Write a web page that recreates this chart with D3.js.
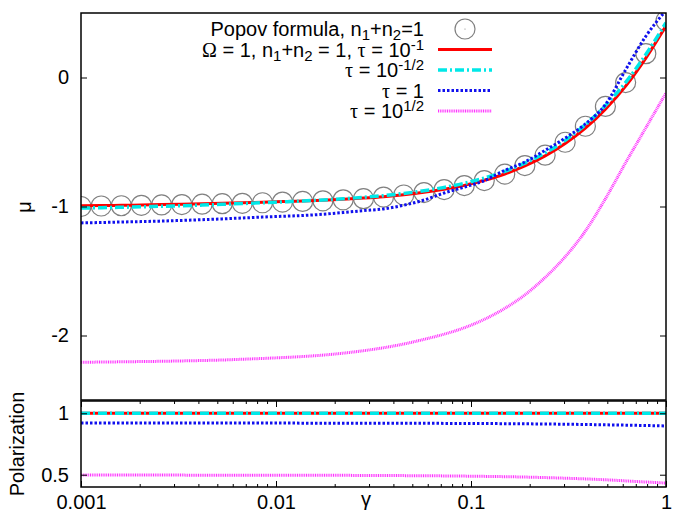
<!DOCTYPE html>
<html>
<head>
<meta charset="utf-8">
<script src="https://cdn.jsdelivr.net/npm/d3@7"></script>
<style>
  body { margin: 0; background: #fff; }
  svg text { font-family: "Liberation Sans", Arial, sans-serif; font-size: 20px; fill: #000; }
</style>
</head>
<body>
<svg id="chart" width="690" height="521"></svg>
<script>
// gamma grid of the curves (log spaced, 30 points)
var gamma = [0.001, 0.00127, 0.00161, 0.00204, 0.00259, 0.00329, 0.00418, 0.0053, 0.00672, 0.00853,
             0.0108, 0.0137, 0.0174, 0.0221, 0.0281, 0.0356, 0.0452, 0.0574, 0.0728, 0.0924,
             0.117, 0.149, 0.189, 0.24, 0.304, 0.386, 0.489, 0.621, 0.788, 1.0]

// Popov formula, n1+n2=1 (circles)
var popovMu = [-1.0, -0.996, -0.994, -0.991, -0.988, -0.985, -0.982, -0.978, -0.975, -0.971,
               -0.966, -0.961, -0.956, -0.948, -0.939, -0.927, -0.911, -0.892, -0.869, -0.838,
               -0.799, -0.749, -0.683, -0.602, -0.502, -0.378, -0.224, -0.039, 0.185, 0.44]

// mu for Omega=1, n1+n2=1, different tau
var muTau01 = [-0.995, -0.993, -0.991, -0.988, -0.985, -0.982, -0.979, -0.975, -0.971, -0.967,
               -0.962, -0.957, -0.951, -0.944, -0.935, -0.924, -0.909, -0.89, -0.866, -0.836,
               -0.797, -0.748, -0.686, -0.608, -0.512, -0.393, -0.246, -0.067, 0.15, 0.4]
var muTau03 = [-1.012, -1.009, -1.006, -1.002, -0.998, -0.994, -0.989, -0.983, -0.977, -0.971,
               -0.964, -0.957, -0.949, -0.94, -0.929, -0.916, -0.899, -0.878, -0.852, -0.82,
               -0.779, -0.728, -0.664, -0.585, -0.487, -0.366, -0.218, -0.038, 0.178, 0.425]
var muTau1 = [-1.127, -1.124, -1.12, -1.117, -1.113, -1.108, -1.102, -1.096, -1.089, -1.082,
              -1.076, -1.07, -1.06, -1.047, -1.032, -1.019, -0.99, -0.95, -0.895, -0.85,
              -0.8, -0.72, -0.655, -0.565, -0.47, -0.36, -0.21, 0.06, 0.32, 0.52]
var muTau3 = [-2.207, -2.206, -2.204, -2.202, -2.2, -2.197, -2.194, -2.19, -2.184, -2.178,
              -2.171, -2.163, -2.152, -2.137, -2.118, -2.095, -2.066, -2.03, -1.99, -1.94,
              -1.875, -1.79, -1.685, -1.55, -1.39, -1.19, -0.94, -0.66, -0.39, -0.12]

// polarization panel
var gammaPol = [0.001, 0.01, 0.03, 0.1, 0.2, 0.3, 0.5, 0.7, 1.0]
var polTau01 = [1.0, 1.0, 1.0, 1.0, 1.0, 1.0, 1.0, 1.0, 1.0]
var polTau03 = [1.0, 1.0, 1.0, 1.0, 1.0, 1.0, 1.0, 1.0, 1.0]
var polTau1 = [0.92, 0.92, 0.919, 0.917, 0.914, 0.911, 0.906, 0.902, 0.897]
var polTau3 = [0.497, 0.496, 0.494, 0.488, 0.48, 0.472, 0.458, 0.445, 0.432]

var xTicks = [0.001, 0.01, 0.1, 1]
var xTickLabels = ["0.001", "0.01", "0.1", "1"]
var muTicks = [-2, -1, 0]
var polTicks = [0.5, 1]

var svg = d3.select("#chart")
var left = 81, right = 666
var topY0 = 13, topY1 = 400, botY0 = 401, botY1 = 487

var x = d3.scaleLog().domain([0.001, 1]).range([left, right])
var yTop = d3.scaleLinear().domain([-2.5, 0.5]).range([topY1, topY0])
var yBot = d3.scaleLinear().domain([0.4, 1.1]).range([botY1, botY0])

var defs = svg.append("defs")
defs.append("clipPath").attr("id", "clipTop").append("rect")
    .attr("x", left).attr("y", topY0).attr("width", right - left).attr("height", topY1 - topY0)
defs.append("clipPath").attr("id", "clipBot").append("rect")
    .attr("x", left).attr("y", botY0).attr("width", right - left).attr("height", botY1 - botY0)

// line styles, in drawing order
var styles = [
    {color: "#ff0000", dash: null, width: 3},
    {color: "#00e8e8", dash: "9,3,2,3", width: 3.5},
    {color: "#1010ee", dash: "2.5,2", width: 3},
    {color: "#ff33ff", dash: "1,0.8", width: 3}
]

function minorTicks() {
    var t = []
    for (var d = 0.001; d < 1; d *= 10) {
        for (var m = 2; m <= 9; m++) t.push(d * m)
    }
    return t
}

// ---------- top panel ----------
var gTop = svg.append("g").attr("clip-path", "url(#clipTop)")

gTop.selectAll("circle.popov")
    .data(gamma)
    .enter().append("circle")
    .attr("class", "popov")
    .attr("cx", function(d) { return x(d) })
    .attr("cy", function(d, i) { return yTop(popovMu[i]) })
    .attr("r", 10)
    .attr("fill", "none")
    .attr("stroke", "#808080")
    .attr("stroke-width", 1.2)

var muSeries = [muTau01, muTau03, muTau1, muTau3]
muSeries.forEach(function(vals, k) {
    var line = d3.line()
        .x(function(d) { return x(d) })
        .y(function(d, i) { return yTop(vals[i]) })
        .curve(d3.curveMonotoneX)
    gTop.append("path")
        .attr("d", line(gamma))
        .attr("fill", "none")
        .attr("stroke", styles[k].color)
        .attr("stroke-width", styles[k].width)
        .attr("stroke-dasharray", styles[k].dash)
})

// y ticks of the top panel
svg.append("g").attr("transform", "translate(" + left + ",0)")
    .call(d3.axisLeft(yTop).tickValues(muTicks).tickSizeInner(-6).tickSizeOuter(0).tickPadding(12)
        .tickFormat(function(d) { return d3.format("d")(d).replace("−", "-") }))
    .call(function(g) { g.select(".domain").remove() })
svg.append("g").attr("transform", "translate(" + right + ",0)")
    .call(d3.axisRight(yTop).tickValues(muTicks).tickSizeInner(-6).tickSizeOuter(0).tickFormat(""))
    .call(function(g) { g.select(".domain").remove() })

svg.append("rect")
    .attr("x", left).attr("y", topY0).attr("width", right - left).attr("height", topY1 - topY0)
    .attr("fill", "none").attr("stroke", "#000").attr("stroke-width", 1.5)

// ---------- bottom panel ----------
var gBot = svg.append("g").attr("clip-path", "url(#clipBot)")
var polSeries = [polTau01, polTau03, polTau1, polTau3]
polSeries.forEach(function(vals, k) {
    var line = d3.line()
        .x(function(d) { return x(d) })
        .y(function(d, i) { return yBot(vals[i]) })
        .curve(d3.curveMonotoneX)
    gBot.append("path")
        .attr("d", line(gammaPol))
        .attr("fill", "none")
        .attr("stroke", styles[k].color)
        .attr("stroke-width", styles[k].width)
        .attr("stroke-dasharray", styles[k].dash)
})

svg.append("g").attr("transform", "translate(" + left + ",0)")
    .call(d3.axisLeft(yBot).tickValues(polTicks).tickSizeInner(-6).tickSizeOuter(0).tickPadding(12)
        .tickFormat(function(d) { return d === 1 ? "1" : "0.5" }))
    .call(function(g) { g.select(".domain").remove() })
svg.append("g").attr("transform", "translate(" + right + ",0)")
    .call(d3.axisRight(yBot).tickValues(polTicks).tickSizeInner(-6).tickSizeOuter(0).tickFormat(""))
    .call(function(g) { g.select(".domain").remove() })

// x ticks: major with labels on the bottom, minor ones too, and mirrored on top edge
svg.append("g").attr("transform", "translate(0," + botY1 + ")")
    .call(d3.axisBottom(x).tickValues(xTicks).tickSizeInner(-6).tickSizeOuter(0).tickPadding(8)
        .tickFormat(function(d, i) { return xTickLabels[i] }))
    .call(function(g) { g.select(".domain").remove() })
svg.append("g").attr("transform", "translate(0," + botY1 + ")")
    .call(d3.axisBottom(x).tickValues(minorTicks()).tickSizeInner(-3).tickSizeOuter(0).tickFormat(""))
    .call(function(g) { g.select(".domain").remove() })
svg.append("g").attr("transform", "translate(0," + botY0 + ")")
    .call(d3.axisTop(x).tickValues(xTicks).tickSizeInner(-6).tickSizeOuter(0).tickFormat(""))
    .call(function(g) { g.select(".domain").remove() })
svg.append("g").attr("transform", "translate(0," + botY0 + ")")
    .call(d3.axisTop(x).tickValues(minorTicks()).tickSizeInner(-3).tickSizeOuter(0).tickFormat(""))
    .call(function(g) { g.select(".domain").remove() })

svg.selectAll(".tick line").attr("stroke", "#000").attr("stroke-width", 1)
svg.selectAll(".tick text").style("font-size", "20px").attr("fill", "#000")

svg.append("rect")
    .attr("x", left).attr("y", botY0).attr("width", right - left).attr("height", botY1 - botY0)
    .attr("fill", "none").attr("stroke", "#000").attr("stroke-width", 1.5)

// axis titles
svg.append("text")
    .attr("transform", "translate(31,207) rotate(-90)")
    .attr("text-anchor", "middle")
    .text("μ")
svg.append("text")
    .attr("transform", "translate(24,444) rotate(-90)")
    .attr("text-anchor", "middle")
    .text("Polarization")
svg.append("text")
    .attr("x", 366).attr("y", 506)
    .attr("text-anchor", "middle")
    .text("γ")

// ---------- legend ----------
var legendRows = [29, 49.5, 70, 90.5, 111]
var textRight = 424, sx0 = 438, sx1 = 492

function addLegendText(y, parts) {
    var t = svg.append("text").attr("x", textRight).attr("y", y + 7).attr("text-anchor", "end")
    parts.forEach(function(p) {
        var ts = t.append("tspan").text(p.s)
        if (p.sub) ts.attr("baseline-shift", "-25%").style("font-size", "15px")
        if (p.sup) ts.attr("baseline-shift", "45%").style("font-size", "15px")
        if (p.greek) ts.style("font-family", "'Liberation Serif', serif")
    })
}

addLegendText(legendRows[0], [{s: "Popov formula, n"}, {s: "1", sub: true}, {s: "+n"}, {s: "2", sub: true}, {s: "=1"}])
addLegendText(legendRows[1], [{s: "Ω", greek: true}, {s: "  = 1, n"}, {s: "1", sub: true}, {s: "+n"}, {s: "2", sub: true},
    {s: " = 1, "}, {s: "τ", greek: true}, {s: "  = 10"}, {s: "-1", sup: true}])
addLegendText(legendRows[2], [{s: "τ", greek: true}, {s: "  = 10"}, {s: "-1/2", sup: true}])
addLegendText(legendRows[3], [{s: "τ", greek: true}, {s: "  = 1"}])
addLegendText(legendRows[4], [{s: "τ", greek: true}, {s: "  = 10"}, {s: "1/2", sup: true}])

svg.append("circle")
    .attr("cx", (sx0 + sx1) / 2).attr("cy", legendRows[0]).attr("r", 10)
    .attr("fill", "none").attr("stroke", "#808080").attr("stroke-width", 1.2)
svg.append("circle")
    .attr("cx", (sx0 + sx1) / 2).attr("cy", legendRows[0]).attr("r", 0.6).attr("fill", "#808080")

styles.forEach(function(s, k) {
    svg.append("line")
        .attr("x1", sx0).attr("x2", sx1)
        .attr("y1", legendRows[k + 1]).attr("y2", legendRows[k + 1])
        .attr("stroke", s.color)
        .attr("stroke-width", s.width)
        .attr("stroke-dasharray", s.dash)
})
</script>
</body>
</html>
